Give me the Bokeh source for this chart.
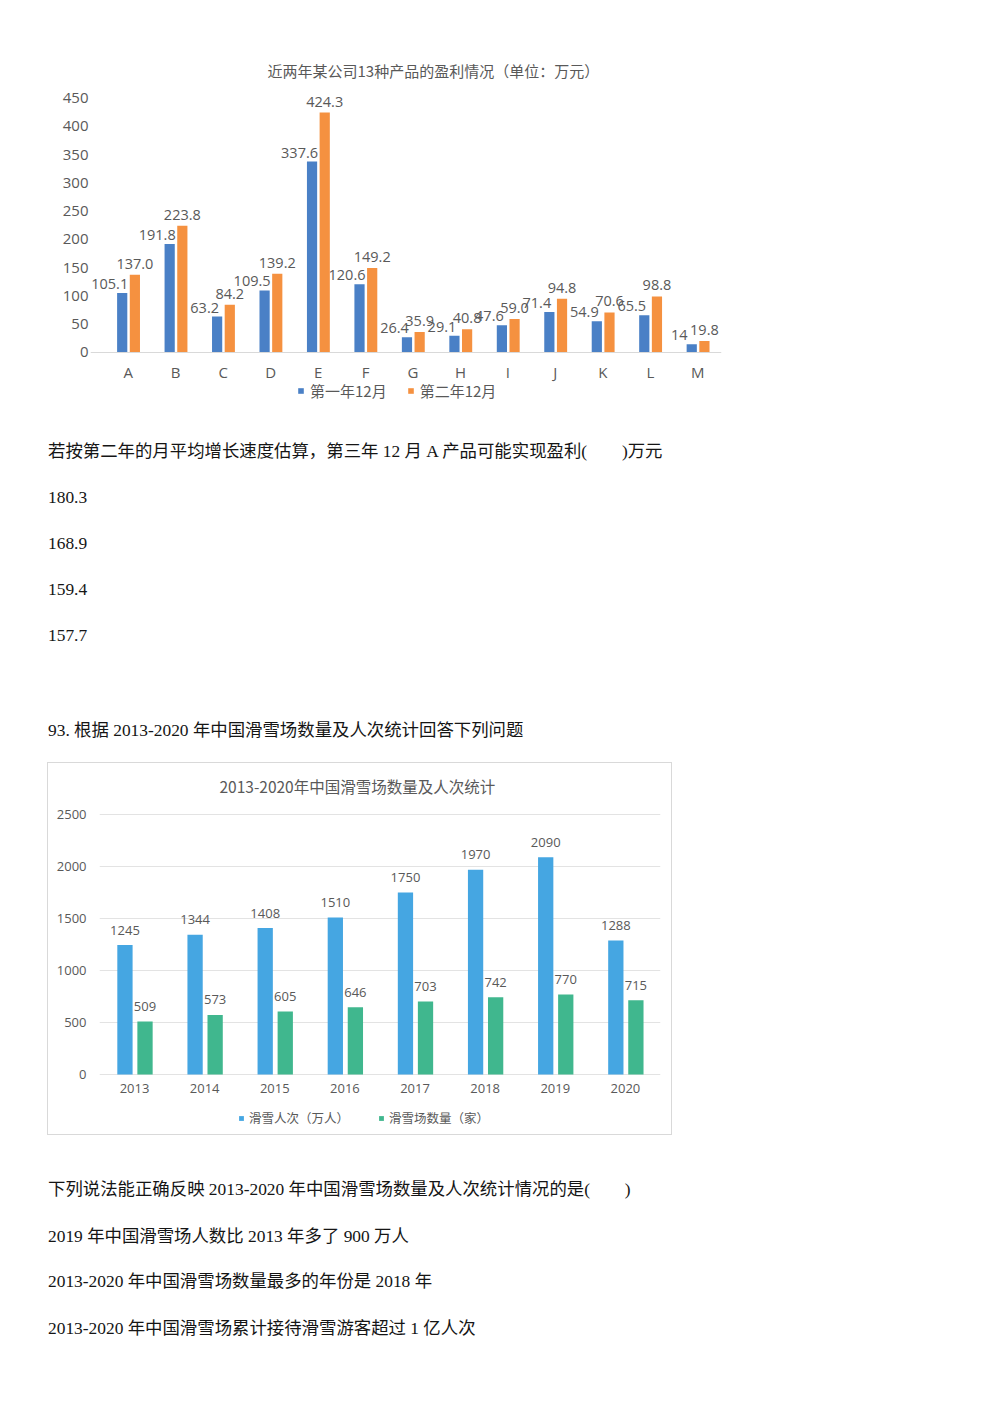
from bokeh.plotting import figure
from bokeh.models import ColumnDataSource, Range1d, FixedTicker, Legend, LegendItem, Spacer
from bokeh.layouts import column, row
from bokeh.transform import dodge
from bokeh.core.properties import value
from bokeh.embed import file_html
from bokeh.resources import INLINE

# ---------------- data: chart 1 ----------------
products = ["A", "B", "C", "D", "E", "F", "G", "H", "I", "J", "K", "L", "M"]
profit_year1 = [105.1, 191.8, 63.2, 109.5, 337.6, 120.6, 26.4, 29.1, 47.6, 71.4, 54.9, 65.5, 14]
profit_year2 = [137.0, 223.8, 84.2, 139.2, 424.3, 149.2, 35.9, 40.8, 59.0, 94.8, 70.6, 98.8, 19.8]
profit_year1_labels = ["105.1", "191.8", "63.2", "109.5", "337.6", "120.6", "26.4", "29.1",
                       "47.6", "71.4", "54.9", "65.5", "14"]
profit_year2_labels = ["137.0", "223.8", "84.2", "139.2", "424.3", "149.2", "35.9", "40.8",
                       "59.0", "94.8", "70.6", "98.8", "19.8"]
chart1_yticks = [0, 50, 100, 150, 200, 250, 300, 350, 400, 450]
chart1_title = "近两年某公司13种产品的盈利情况（单位：万元）"
chart1_series = ["第一年12月", "第二年12月"]

# ---------------- data: chart 2 ----------------
years = ["2013", "2014", "2015", "2016", "2017", "2018", "2019", "2020"]
skier_visits = [1245, 1344, 1408, 1510, 1750, 1970, 2090, 1288]
resort_counts = [509, 573, 605, 646, 703, 742, 770, 715]
chart2_yticks = [0, 500, 1000, 1500, 2000, 2500]
chart2_title = "2013-2020年中国滑雪场数量及人次统计"
chart2_series = ["滑雪人次（万人）", "滑雪场数量（家）"]

# ---------------- page texts ----------------
text_block1 = [
    "若按第二年的月平均增长速度估算，第三年 12 月 A 产品可能实现盈利(\u3000\u3000)万元",
    "180.3",
    "168.9",
    "159.4",
    "157.7",
    "93. 根据 2013-2020 年中国滑雪场数量及人次统计回答下列问题",
]
text_block2 = [
    "下列说法能正确反映 2013-2020 年中国滑雪场数量及人次统计情况的是(\u3000\u3000)",
    "2019 年中国滑雪场人数比 2013 年多了 900 万人",
    "2013-2020 年中国滑雪场数量最多的年份是 2018 年",
    "2013-2020 年中国滑雪场累计接待滑雪游客超过 1 亿人次",
]

GRAY = "#595959"
CJK = "Noto Sans CJK SC"
NUM = "Open Sans"
BODY_FONT = "Liberation Serif, Noto Sans CJK SC"
PAGE_W = 1000


def style_title(p, size, offset, standoff):
    p.title.align = "left"
    p.title.offset = offset
    p.title.text_font = CJK
    p.title.text_font_size = size
    p.title.text_font_style = "normal"
    p.title.text_color = GRAY
    try:
        p.title.standoff = standoff
    except Exception:
        pass


def style_axis(ax, size, standoff, line_color=None):
    ax.axis_line_color = line_color
    ax.major_tick_line_color = None
    ax.minor_tick_line_color = None
    ax.major_tick_out = 0
    ax.major_label_standoff = standoff
    ax.major_label_text_font = NUM
    ax.major_label_text_font_size = size
    ax.major_label_text_color = GRAY


def make_legend(items, loc, font_size, glyph, spacing, standoff):
    return Legend(items=items, orientation="horizontal", location=loc,
                  border_line_color=None, background_fill_alpha=0,
                  label_text_font=CJK, label_text_font_size=font_size, label_text_color=GRAY,
                  glyph_width=glyph, glyph_height=glyph, label_standoff=standoff,
                  spacing=spacing, padding=0, margin=0, label_height=18)


# ---------------- chart 1 ----------------
idx = list(range(len(products)))
src1 = ColumnDataSource(dict(idx=idx, y1=profit_year1, y2=profit_year2,
                             l1=profit_year1_labels, l2=profit_year2_labels))
# frame extends below the zero line so that the legend sits inside it
p1 = figure(width=PAGE_W, height=418, x_range=Range1d(-0.795, 12.5), y_range=Range1d(-103.1, 474),
            min_border_left=90, min_border_right=279, min_border_top=84, min_border_bottom=8,
            output_backend="svg", toolbar_location=None, title=chart1_title)
style_title(p1, "15px", 177, 8)
p1.outline_line_color = None
p1.xgrid.grid_line_color = None
p1.ygrid.grid_line_color = None

r1 = p1.vbar(x=dodge("idx", -0.127), top="y1", width=0.215, source=src1,
             fill_color="#4a80c6", line_color=None)
r2 = p1.vbar(x=dodge("idx", 0.14), top="y2", width=0.215, source=src1,
             fill_color="#f59140", line_color=None)
p1.text(x=dodge("idx", -0.39), y="y1", text="l1", source=src1,
        text_align="center", text_baseline="middle", y_offset=-9,
        text_font=value(NUM), text_font_size="14.5px", text_color=GRAY)
p1.text(x=dodge("idx", 0.14), y="y2", text="l2", source=src1,
        text_align="center", text_baseline="middle", y_offset=-11,
        text_font=value(NUM), text_font_size="14.5px", text_color=GRAY)

p1.yaxis.ticker = FixedTicker(ticks=chart1_yticks)
style_axis(p1.yaxis[0], "15px", 2)
p1.xaxis.ticker = FixedTicker(ticks=idx)
p1.xaxis.major_label_overrides = {i: name for i, name in zip(idx, products)}
p1.xaxis.fixed_location = 0
style_axis(p1.xaxis[0], "15px", 10, "#d9d9d9")

leg1 = make_legend([LegendItem(label=chart1_series[0], renderers=[r1]),
                    LegendItem(label=chart1_series[1], renderers=[r2])],
                   (207, 9), "15px", 7, 20, 6)
p1.add_layout(leg1, "center")

# ---------------- chart 2 ----------------
src2 = ColumnDataSource(dict(year=years, visits=skier_visits, resorts=resort_counts,
                             lv=[str(v) for v in skier_visits],
                             lr=[str(v) for v in resort_counts]))
p2 = figure(width=625, height=373, x_range=years, y_range=Range1d(-557.7, 2577),
            min_border_left=51, min_border_right=13, min_border_top=43, min_border_bottom=4,
            output_backend="svg", toolbar_location=None, title=chart2_title)
style_title(p2, "15.5px", 120, 19)
p2.outline_line_color = None
p2.xgrid.grid_line_color = None
p2.ygrid.ticker = FixedTicker(ticks=chart2_yticks)
p2.ygrid.grid_line_color = "#e3e3e3"
p2.ygrid.grid_line_width = 1

q1 = p2.vbar(x=dodge("year", -0.137, range=p2.x_range), top="visits", width=0.218,
             source=src2, fill_color="#45a6e2", line_color=None)
q2 = p2.vbar(x=dodge("year", 0.149, range=p2.x_range), top="resorts", width=0.218,
             source=src2, fill_color="#40b78e", line_color=None)
p2.text(x=dodge("year", -0.137, range=p2.x_range), y="visits", text="lv", source=src2,
        text_align="center", text_baseline="middle", y_offset=-15,
        text_font=value(NUM), text_font_size="13px", text_color=GRAY)
p2.text(x=dodge("year", 0.149, range=p2.x_range), y="resorts", text="lr", source=src2,
        text_align="center", text_baseline="middle", y_offset=-15,
        text_font=value(NUM), text_font_size="13px", text_color=GRAY)

p2.yaxis.ticker = FixedTicker(ticks=chart2_yticks)
style_axis(p2.yaxis[0], "13px", 13)
p2.xaxis.fixed_location = 0
style_axis(p2.xaxis[0], "13px", 9)

leg2 = make_legend([LegendItem(label=chart2_series[0], renderers=[q1]),
                    LegendItem(label=chart2_series[1], renderers=[q2])],
                   (139, 5), "12.5px", 6, 29, 5)
p2.add_layout(leg2, "center")
p2.styles = {"border": "1px solid #d9d9d9", "box-sizing": "border-box"}


# ---------------- text panels ----------------
def text_panel(height, lines, ys):
    p = figure(width=PAGE_W, height=height, x_range=Range1d(0, PAGE_W), y_range=Range1d(height, 0),
               x_axis_type=None, y_axis_type=None, title=None,
               min_border_left=0, min_border_right=0, min_border_top=0, min_border_bottom=0,
               output_backend="svg", toolbar_location=None)
    p.outline_line_color = None
    src = ColumnDataSource(dict(x=[47.5] * len(lines), y=ys, t=lines))
    p.text(x="x", y="y", text="t", source=src, text_align="left", text_baseline="middle",
           text_font=value(BODY_FONT), text_font_size="17.4px", text_color="#151515")
    return p


t1 = text_panel(344, text_block1, [32.7, 78.7, 124.7, 170.7, 216.7, 311])
t2 = text_panel(279, text_block2, [53.3, 100, 145, 192.3])

layout = column(
    row(p1),
    row(t1),
    row(Spacer(width=47, height=373), p2, Spacer(width=328, height=373)),
    row(t2),
)

with open("out.html", "w") as f:
    f.write(file_html(layout, INLINE))
